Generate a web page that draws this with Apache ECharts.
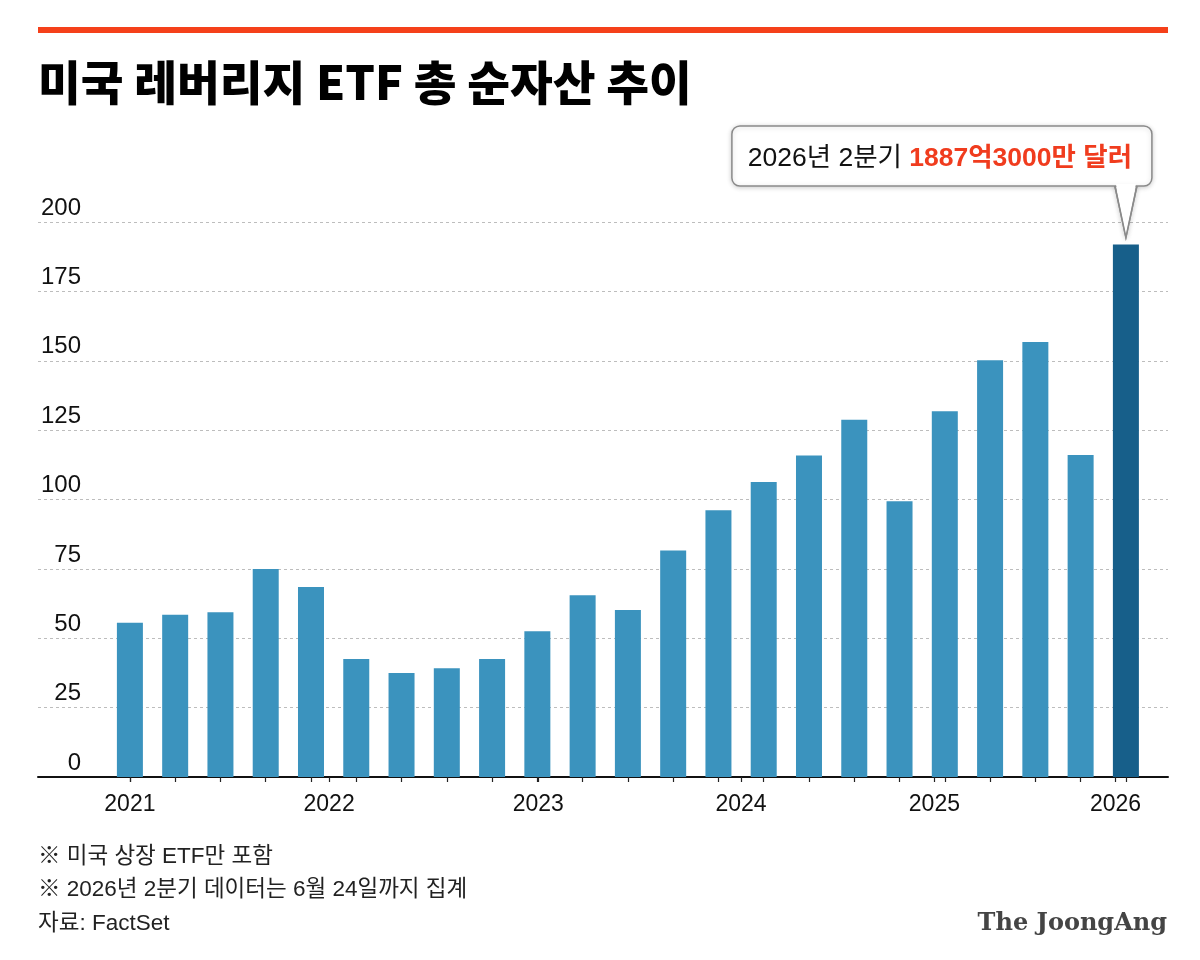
<!DOCTYPE html>
<html><head><meta charset="utf-8">
<script src="https://cdn.jsdelivr.net/npm/echarts@6/dist/echarts.min.js"></script>
<style>html,body{margin:0;padding:0;background:#fff}#c{width:1200px;height:960px}</style>
</head><body><div id="c"></div>
<script>
// Quarterly total net assets of US leveraged ETFs (billion USD), last = 2026 Q2
const categories = ['2020 4Q','2021 1Q','2021 2Q','2021 3Q','2021 4Q','2022 1Q','2022 2Q','2022 3Q','2022 4Q',
  '2023 1Q','2023 2Q','2023 3Q','2023 4Q','2024 1Q','2024 2Q','2024 3Q','2024 4Q','2025 1Q','2025 2Q',
  '2025 3Q','2025 4Q','2026 1Q','2026 2Q'];
const values = [55.6, 58.5, 59.4, 75.0, 68.5, 42.5, 37.5, 39.2, 42.5, 52.5, 65.5, 60.2, 81.6, 96.1,
  106.3, 115.9, 128.7, 99.4, 131.8, 150.2, 156.8, 116.0, 191.9];
const yearLabels = ['2021','2022','2023','2024','2025','2026'];
const yearTickPos = [0, 4.4, 9.02, 13.5, 17.77, 21.77];
const yMin = 0, yMax = 200, yInterval = 25;
const titleText = '미국 레버리지 ETF 총 순자산 추이';
const calloutPrefix = '2026년 2분기 ';
const calloutValue = '1887억3000만 달러';
const notes = ['※ 미국 상장 ETF만 포함', '※ 2026년 2분기 데이터는 6월 24일까지 집계', '자료: FactSet'];
const brand = 'The JoongAng';

const FONT = "'Liberation Sans', 'Noto Sans CJK KR', Arial, sans-serif";
const KFONT = "'Noto Sans CJK KR', 'Liberation Sans', sans-serif";
const idx = values.map((_, i) => i);
const lastIdx = values.length - 1;

const chart = echarts.init(document.getElementById('c'), null, {renderer: 'canvas'});
const xCommon = {type: 'value', min: -2.03, max: 22.93, splitLine: {show: false}};
chart.setOption({
  animation: false,
  backgroundColor: '#fff',
  grid: {left: 38, right: 32, top: 222, bottom: 183, containLabel: false},
  xAxis: [
    Object.assign({}, xCommon, {
      position: 'bottom',
      axisLine: {show: true, lineStyle: {color: '#111', width: 2}},
      axisTick: {show: true, length: 5, customValues: idx, lineStyle: {color: '#222', width: 1.2}},
      axisLabel: {show: false}
    }),
    Object.assign({}, xCommon, {
      position: 'bottom',
      axisLine: {show: false},
      axisTick: {show: true, length: 5, customValues: yearTickPos, lineStyle: {color: '#222', width: 1.2}},
      axisLabel: {
        show: true, customValues: yearTickPos, margin: 16,
        color: '#111', fontSize: 23, fontFamily: FONT,
        formatter: v => { const k = yearTickPos.indexOf(v); return k >= 0 ? yearLabels[k] : ''; }
      }
    })
  ],
  yAxis: {
    type: 'value', min: yMin, max: yMax, interval: yInterval,
    axisLine: {show: false}, axisTick: {show: false},
    splitLine: {show: true, lineStyle: {color: '#bdbdbd', width: 1, type: [3, 3]}},
    axisLabel: {inside: true, align: 'right', margin: 43, verticalAlign: 'bottom',
      color: '#111', fontSize: 24, fontFamily: FONT, padding: [0, 0, 2, 0]}
  },
  series: [{
    type: 'bar', xAxisIndex: 0, yAxisIndex: 0, barWidth: 26,
    data: values.map((v, i) => ({name: categories[i], value: [i, v]})),
    itemStyle: {color: p => p.dataIndex === lastIdx ? '#175f8a' : '#3b93be'}
  }]
});

const tip = chart.convertToPixel({xAxisIndex: 0, yAxisIndex: 0}, [lastIdx, values[lastIdx]]);
const tx = tip[0], ty = tip[1] - 7;
const R = tx + 26, L = R - 420, T = 126, B = 186;
const tailPts = [[tx - 11, B], [tx, ty], [tx + 11, B]];

chart.setOption({
  graphic: [
    {type: 'rect', shape: {x: 38, y: 27, width: 1130, height: 6}, style: {fill: '#f5401a'}},
    {type: 'text', x: 38, y: 82, style: {text: titleText, fill: '#000', font: `900 46.5px ${KFONT}`, verticalAlign: 'middle', align: 'left'}},
    {type: 'polygon', shape: {points: tailPts}, style: {fill: '#fff', stroke: '#8a8a8a', lineWidth: 1.5,
      shadowBlur: 5, shadowColor: 'rgba(0,0,0,0.18)', shadowOffsetY: 1}},
    {type: 'rect', shape: {x: L, y: T, width: R - L, height: B - T, r: 8}, style: {fill: '#fff', stroke: '#8a8a8a', lineWidth: 1.5,
      shadowBlur: 5, shadowColor: 'rgba(0,0,0,0.18)', shadowOffsetY: 1}},
    {type: 'polygon', shape: {points: [[tx - 10, B - 2], [tx, ty - 2], [tx + 10, B - 2]]}, style: {fill: '#fff'}},
    {type: 'polyline', shape: {points: tailPts}, style: {fill: null, stroke: '#8a8a8a', lineWidth: 1.5}},
    {type: 'text', x: (L + R) / 2 - 2, y: 159, style: {
      text: `{a|${calloutPrefix}}{b|${calloutValue}}`, align: 'center', verticalAlign: 'middle',
      rich: {a: {fontSize: 26.5, fontFamily: FONT, fill: '#111', color: '#111'},
             b: {fontSize: 26.5, fontFamily: FONT, fontWeight: 'bold', fill: '#f03c1e', color: '#f03c1e'}}
    }},
    {type: 'text', x: 38, y: 857, style: {text: notes[0], fill: '#222', font: `22.5px ${FONT}`, verticalAlign: 'middle'}},
    {type: 'text', x: 38, y: 890, style: {text: notes[1], fill: '#222', font: `22.5px ${FONT}`, verticalAlign: 'middle'}},
    {type: 'text', x: 38, y: 924, style: {text: notes[2], fill: '#222', font: `22.5px ${FONT}`, verticalAlign: 'middle'}},
    {type: 'text', x: 1167, y: 924, style: {text: brand, fill: '#444', font: `bold 24px 'DejaVu Serif', 'Liberation Serif', serif`, verticalAlign: 'middle', align: 'right'}}
  ]
});
</script></body></html>
